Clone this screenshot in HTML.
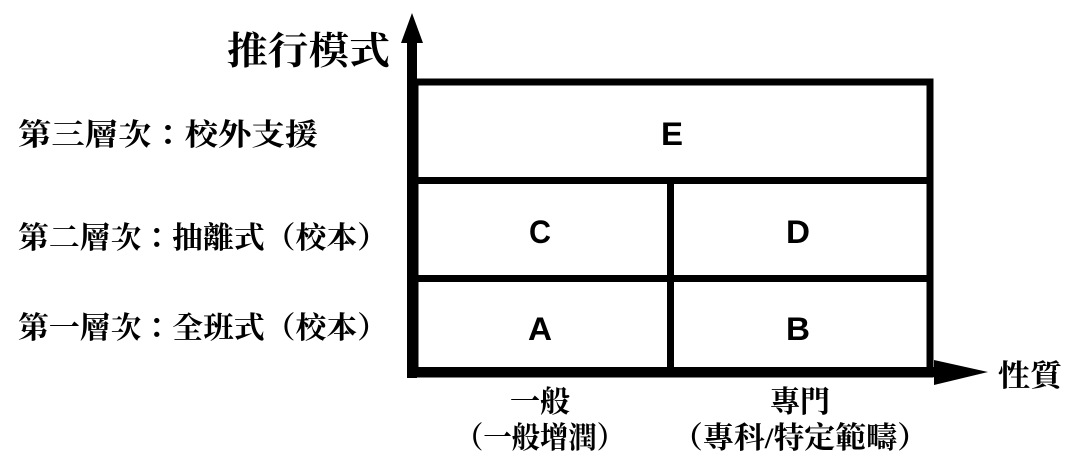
<!DOCTYPE html>
<html><head><meta charset="utf-8"><style>
html,body{margin:0;padding:0;background:#fff;}
svg{display:block;}
text{font-family:"Liberation Serif","Noto Serif CJK TC","Noto Serif CJK SC",serif;font-weight:bold;fill:#000;}
.l{font-family:"Liberation Sans","DejaVu Sans",sans-serif;font-size:32px;}
</style></head><body>
<svg width="1079" height="475" viewBox="0 0 1079 475" xmlns="http://www.w3.org/2000/svg">
<rect x="415" y="82" width="515" height="292" fill="none" stroke="#000" stroke-width="7"/>
<line x1="415" y1="180.5" x2="930" y2="180.5" stroke="#000" stroke-width="7"/>
<line x1="415" y1="278.5" x2="930" y2="278.5" stroke="#000" stroke-width="7"/>
<line x1="670.5" y1="180" x2="670.5" y2="374" stroke="#000" stroke-width="7"/>
<rect x="407" y="40" width="10" height="338" fill="#000"/>
<polygon points="412,13 401,43 423,43" fill="#000"/>
<rect x="407" y="367" width="530" height="10" fill="#000"/>
<polygon points="988,372 934,360 934,385" fill="#000"/>
<text class="l" x="672" y="145" text-anchor="middle" textLength="22" lengthAdjust="spacingAndGlyphs">E</text>
<text class="l" x="540" y="243" text-anchor="middle" textLength="22" lengthAdjust="spacingAndGlyphs">C</text>
<text class="l" x="798" y="243" text-anchor="middle" textLength="24" lengthAdjust="spacingAndGlyphs">D</text>
<text class="l" x="540" y="340" text-anchor="middle" textLength="24" lengthAdjust="spacingAndGlyphs">A</text>
<text class="l" x="798" y="340" text-anchor="middle" textLength="24" lengthAdjust="spacingAndGlyphs">B</text>
<text x="227" y="64" font-size="38" textLength="163" lengthAdjust="spacingAndGlyphs">推行模式</text>
<text x="18" y="145" font-size="30" textLength="300" lengthAdjust="spacingAndGlyphs">第三層次：校外支援</text>
<text x="18" y="248" font-size="30" textLength="370" lengthAdjust="spacingAndGlyphs">第二層次：抽離式（校本）</text>
<text x="18" y="338" font-size="30" textLength="370" lengthAdjust="spacingAndGlyphs">第一層次：全班式（校本）</text>
<text x="998" y="386" font-size="30" textLength="64" lengthAdjust="spacingAndGlyphs">性質</text>
<text x="540" y="412" font-size="30" text-anchor="middle">一般</text>
<text x="455" y="448" font-size="30" textLength="170" lengthAdjust="spacingAndGlyphs">（一般增潤）</text>
<text x="800" y="412" font-size="30" text-anchor="middle">專門</text>
<text x="672" y="448" font-size="30" textLength="256" lengthAdjust="spacingAndGlyphs">（專科/特定範疇）</text>
</svg>
</body></html>
